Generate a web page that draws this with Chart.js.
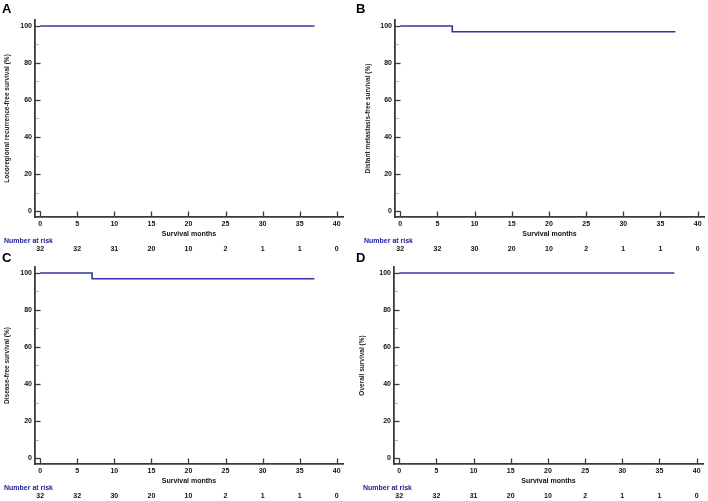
<!DOCTYPE html>
<html>
<head>
<meta charset="utf-8">
<script src="https://cdn.jsdelivr.net/npm/chart.js@4/dist/chart.umd.min.js"></script>
<style>
  html, body { margin: 0; padding: 0; background: #fff; }
  #wrap { position: relative; width: 708px; height: 501px; overflow: hidden; }
  canvas { position: absolute; }
</style>
</head>
<body>
<div id="wrap">
  <canvas id="cA" width="354" height="256" style="left:0;top:0"></canvas>
  <canvas id="cB" width="354" height="256" style="left:354px;top:0"></canvas>
  <canvas id="cC" width="354" height="251" style="left:0;top:250px"></canvas>
  <canvas id="cD" width="354" height="251" style="left:354px;top:250px"></canvas>
</div>
<script>
// axis ticks
const xTicks = [0, 5, 10, 15, 20, 25, 30, 35, 40];
const yTicks = [0, 20, 40, 60, 80, 100];
const yMinor = [10, 30, 50, 70, 90];

// Kaplan-Meier steps (months, %)
const timesA = [0, 37];
const survA = [100, 100];
const timesB = [0, 7, 37];
const survB = [100, 96.9, 96.9];
const timesC = [0, 7, 37];
const survC = [100, 96.9, 96.9];
const timesD = [0, 37];
const survD = [100, 100];

// number at risk under each x tick
const riskA = [32, 32, 31, 20, 10, 2, 1, 1, 0];
const riskB = [32, 32, 30, 20, 10, 2, 1, 1, 0];
const riskC = [32, 32, 30, 20, 10, 2, 1, 1, 0];
const riskD = [32, 32, 31, 20, 10, 2, 1, 1, 0];

const panelLetters = ["A", "B", "C", "D"];
const yTitles = [
  "Locoregional recurrence-free survival (%)",
  "Distant metastasis-free survival (%)",
  "Disease-free survival (%)",
  "Overall survival (%)"
];
const xTitle = "Survival months";
const riskLabel = "Number at risk";

const FONT = "'Liberation Sans', Arial, sans-serif";
const LINE = "#3434a6";
const AXIS = "#3a3a3a";

const extras = {
  id: "kmExtras",
  afterDraw(chart, args, opts) {
    const ctx = chart.ctx;
    const x = chart.scales.x, y = chart.scales.y;
    const a = chart.chartArea;
    ctx.save();
    // inward tick marks
    ctx.strokeStyle = AXIS;
    ctx.lineWidth = 1.3;
    xTicks.forEach(v => {
      const px = Math.round(x.getPixelForValue(v)) + 0.5;
      ctx.beginPath(); ctx.moveTo(px, a.bottom); ctx.lineTo(px, a.bottom - 5.5); ctx.stroke();
    });
    yTicks.forEach(v => {
      const py = Math.round(y.getPixelForValue(v)) + 0.5;
      ctx.beginPath(); ctx.moveTo(a.left, py); ctx.lineTo(a.left + 5.5, py); ctx.stroke();
    });
    ctx.strokeStyle = "#b0b0b0";
    ctx.lineWidth = 1;
    yMinor.forEach(v => {
      const py = Math.round(y.getPixelForValue(v)) + 0.5;
      ctx.beginPath(); ctx.moveTo(a.left + 1, py); ctx.lineTo(a.left + 4, py); ctx.stroke();
    });
    // panel letter
    ctx.fillStyle = "#000";
    ctx.font = "bold 13px " + FONT;
    ctx.textAlign = "left";
    ctx.textBaseline = "top";
    ctx.fillText(opts.letter, 2, opts.letterTop);
    // number at risk
    ctx.textBaseline = "middle";
    ctx.font = "bold 7px " + FONT;
    ctx.fillStyle = "#22229a";
    ctx.fillText(riskLabel, a.left - 31, a.bottom + 24.5);
    ctx.fillStyle = "#111";
    ctx.textAlign = "center";
    opts.risk.forEach((n, i) => {
      ctx.fillText(String(n), x.getPixelForValue(xTicks[i]), a.bottom + 32.5);
    });
    ctx.restore();
  }
};

function makePanel(id, p) {
  const canvas = document.getElementById(id);
  const H = canvas.height, W = canvas.width;
  const lh = 6.5 * 1.2;
  return new Chart(canvas, {
    type: "line",
    data: {
      datasets: [{
        data: p.times.map((t, i) => ({ x: t, y: p.surv[i] })),
        stepped: "before",
        borderColor: LINE,
        borderWidth: 1.6,
        pointRadius: 0,
        fill: false
      }]
    },
    options: {
      responsive: false,
      animation: false,
      layout: { padding: { top: p.top, right: W - p.right, left: 0, bottom: 0 } },
      plugins: {
        legend: { display: false },
        tooltip: { enabled: false },
        kmExtras: { letter: p.letter, risk: p.risk, letterTop: p.letterTop }
      },
      scales: {
        x: {
          type: "linear",
          min: -0.7,
          max: 40.85,
          afterFit: s => { s.height = H - p.bottom; },
          afterBuildTicks: s => { s.ticks = xTicks.map(v => ({ value: v })); },
          grid: { display: true, drawOnChartArea: false, drawTicks: false },
          border: { display: true, color: AXIS, width: 1.8 },
          ticks: {
            padding: 3,
            maxRotation: 0,
            autoSkip: false,
            color: "#111",
            font: { family: FONT, size: 7, weight: "bold" }
          },
          title: {
            display: true,
            text: xTitle,
            color: "#111",
            font: { family: FONT, size: 7, weight: "bold" },
            padding: { top: 0, bottom: (H - p.bottom) - 17.5 - 4.2 }
          }
        },
        y: {
          type: "linear",
          min: -3.24,
          max: 103.24,
          afterFit: s => { s.width = p.left; },
          afterBuildTicks: s => { s.ticks = yTicks.map(v => ({ value: v })); },
          grid: { display: true, drawOnChartArea: false, drawTicks: false },
          border: { display: true, color: AXIS, width: 1.8 },
          ticks: {
            padding: 3,
            color: "#111",
            font: { family: FONT, size: 7, weight: "bold" }
          },
          title: {
            display: true,
            text: p.yTitle,
            color: "#222",
            font: { family: FONT, size: 6.5, weight: "bold" },
            padding: { top: p.titleX - lh / 2, bottom: 0 }
          }
        }
      }
    },
    plugins: [extras]
  });
}

makePanel("cA", { letter: panelLetters[0], yTitle: yTitles[0], times: timesA, surv: survA, risk: riskA,
  left: 35, right: 343, top: 20, bottom: 217, titleX: 7, letterTop: 3 });
makePanel("cB", { letter: panelLetters[1], yTitle: yTitles[1], times: timesB, surv: survB, risk: riskB,
  left: 41, right: 350, top: 20, bottom: 217, titleX: 14.5, letterTop: 3 });
makePanel("cC", { letter: panelLetters[2], yTitle: yTitles[2], times: timesC, surv: survC, risk: riskC,
  left: 35, right: 343, top: 17, bottom: 214, titleX: 7, letterTop: 2 });
makePanel("cD", { letter: panelLetters[3], yTitle: yTitles[3], times: timesD, surv: survD, risk: riskD,
  left: 40, right: 349, top: 17, bottom: 214, titleX: 8, letterTop: 2 });
</script>
</body>
</html>
